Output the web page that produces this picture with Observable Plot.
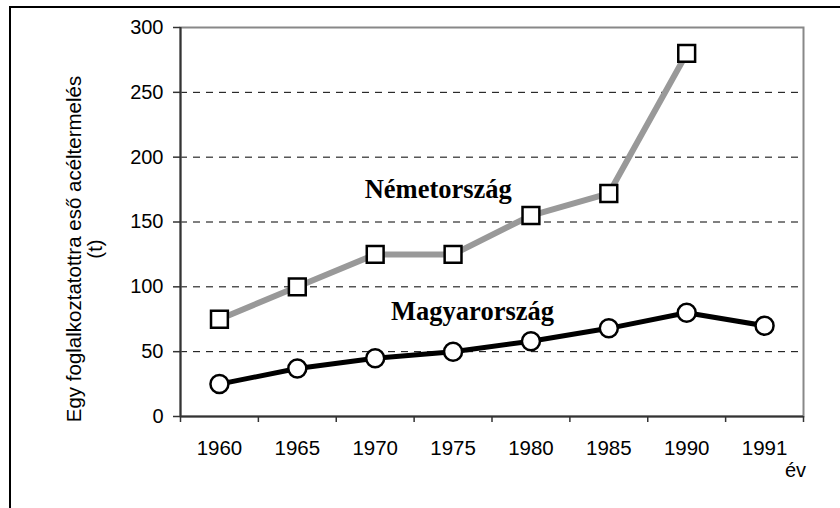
<!DOCTYPE html>
<html>
<head>
<meta charset="utf-8">
<script src="https://cdn.jsdelivr.net/npm/d3@7"></script>
<script src="https://cdn.jsdelivr.net/npm/@observablehq/plot@0.6"></script>
<style>
  html, body { margin: 0; padding: 0; background: #fff; overflow: hidden; }
  #wrap { position: relative; width: 840px; height: 508px; overflow: hidden; }
  #border { position: absolute; left: 9px; top: 6px; width: 900px; height: 600px;
            border-left: 2px solid #000; border-top: 2px solid #000; pointer-events: none; }
  #chart { position: absolute; left: 0; top: 0; }
</style>
</head>
<body>
<div id="wrap"><div id="chart"></div><div id="border"></div></div>
<script>
const years = ["1960", "1965", "1970", "1975", "1980", "1985", "1990", "1991"];
const nemetorszag = [75, 100, 125, 125, 155, 172, 280, null];
const magyarorszag = [25, 37, 45, 50, 58, 68, 80, 70];
const yTicks = [0, 50, 100, 150, 200, 250, 300];
const gridValues = [50, 100, 150, 200, 250];
const seriesLabels = [
  {text: "Németország", x: 2.81, y: 175},
  {text: "Magyarország", x: 3.25, y: 81}
];
const yLabel = "Egy foglalkoztatottra eső acéltermelés\n(t)";
const xLabel = "év";

const toRows = (vals) => years.map((year, i) => ({i, year, value: vals[i]})).filter(d => d.value != null);
const ger = toRows(nemetorszag);
const hun = toRows(magyarorszag);
const boundaries = d3.range(years.length + 1).map(i => i - 0.5);
const centers = d3.range(years.length);

const chart = Plot.plot({
  width: 840,
  height: 508,
  marginLeft: 180,
  marginRight: 37,
  marginTop: 27,
  marginBottom: 92,
  style: {fontFamily: "'Liberation Sans', Arial, sans-serif", fontSize: "20px", color: "#000", background: "transparent"},
  x: {type: "linear", domain: [boundaries[0], boundaries[boundaries.length - 1]]},
  y: {domain: [0, 300]},
  marks: [
    Plot.ruleY(gridValues, {stroke: "#000", strokeDasharray: "7,6", strokeWidth: 1}),
    Plot.frame({stroke: "#888", strokeWidth: 2}),
    Plot.ruleX([boundaries[0]], {stroke: "#333", strokeWidth: 2}),
    Plot.ruleY([0], {stroke: "#333", strokeWidth: 2}),
    Plot.axisY({ticks: yTicks, tickSize: 7, tickPadding: 10, label: null, stroke: "#333", strokeWidth: 1.5, fontSize: 20}),
    Plot.axisX({ticks: boundaries, tickFormat: () => "", tickSize: 6, label: null, stroke: "#333", strokeWidth: 1.5}),
    Plot.axisX({ticks: centers, tickFormat: i => years[i], tickSize: 0, tickPadding: 24, label: null, fontSize: 20.5}),
    Plot.line(ger, {x: "i", y: "value", stroke: "#999", strokeWidth: 6}),
    Plot.line(hun, {x: "i", y: "value", stroke: "#000", strokeWidth: 5}),
    Plot.dot(ger, {x: "i", y: "value", symbol: "square", r: 9.5, fill: "#fff", stroke: "#000", strokeWidth: 2.5}),
    Plot.dot(hun, {x: "i", y: "value", r: 9, fill: "#fff", stroke: "#000", strokeWidth: 2.5}),
    Plot.text(seriesLabels, {x: "x", y: "y", text: "text", fontFamily: "'Liberation Serif', 'Times New Roman', serif", fontWeight: "bold", fontSize: 26.5}),
    Plot.text([yLabel], {frameAnchor: "left", textAnchor: "middle", lineAnchor: "middle", rotate: -90, dx: -96, dy: 27, fontSize: 20.5, lineHeight: 1.05}),
    Plot.text([xLabel], {frameAnchor: "bottom-right", textAnchor: "middle", lineAnchor: "middle", dx: -8, dy: 54, fontSize: 20})
  ]
});
document.getElementById("chart").appendChild(chart);
</script>
</body>
</html>
